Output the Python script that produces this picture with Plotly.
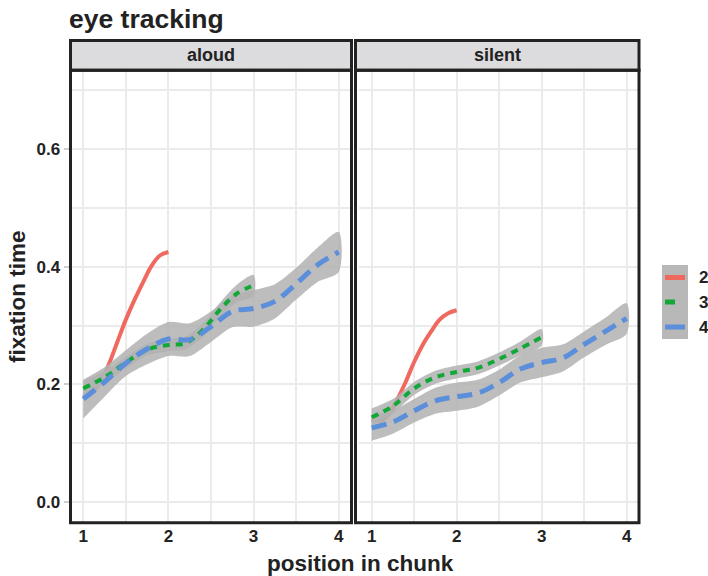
import plotly.graph_objects as go

W, H = 708, 576

# ---- data: smoothed fixation time by position in chunk, per chunk length ----
panels = ["aloud", "silent"]
groups = ["2", "3", "4"]
group_colors = ["#F0695F", "#12A838", "#5B8EDB"]

# aloud
aloud_pos2 = [1.0, 1.1, 1.2, 1.3, 1.4, 1.5, 1.6, 1.7, 1.8, 1.9, 2.0]
aloud_fix2 = [0.178, 0.186, 0.203, 0.234, 0.272, 0.310, 0.343, 0.373, 0.401, 0.419, 0.425]

aloud_pos3 = [1.0, 1.25, 1.5, 1.75, 2.0, 2.2, 2.4, 2.6, 2.8, 3.0]
aloud_fix3 = [0.193, 0.212, 0.237, 0.259, 0.267, 0.270, 0.292, 0.326, 0.354, 0.368]
aloud_se3 = [0.013, 0.011, 0.010, 0.010, 0.011, 0.011, 0.011, 0.012, 0.015, 0.018]

aloud_pos4 = [1.0, 1.25, 1.5, 1.75, 2.0, 2.25, 2.5, 2.75, 3.0, 3.25, 3.5, 3.75, 4.0]
aloud_fix4 = [0.175, 0.204, 0.236, 0.260, 0.277, 0.276, 0.298, 0.324, 0.329, 0.341, 0.371, 0.403, 0.425]
aloud_se4 = [0.033, 0.025, 0.022, 0.026, 0.029, 0.028, 0.026, 0.027, 0.031, 0.029, 0.027, 0.029, 0.034]

# silent
silent_pos2 = [1.0, 1.1, 1.2, 1.3, 1.4, 1.5, 1.6, 1.7, 1.8, 1.9, 2.0]
silent_fix2 = [0.140, 0.138, 0.149, 0.174, 0.204, 0.238, 0.267, 0.290, 0.310, 0.321, 0.326]

silent_pos3 = [1.0, 1.25, 1.5, 1.75, 2.0, 2.25, 2.5, 2.75, 3.0]
silent_fix3 = [0.144, 0.163, 0.193, 0.212, 0.221, 0.228, 0.243, 0.261, 0.280]
silent_se3 = [0.015, 0.012, 0.011, 0.011, 0.011, 0.011, 0.011, 0.012, 0.014]

silent_pos4 = [1.0, 1.25, 1.5, 1.75, 2.0, 2.25, 2.5, 2.75, 3.0, 3.25, 3.5, 3.75, 4.0]
silent_fix4 = [0.126, 0.136, 0.155, 0.172, 0.179, 0.185, 0.203, 0.226, 0.237, 0.245, 0.268, 0.290, 0.312]
silent_se4 = [0.022, 0.020, 0.020, 0.022, 0.024, 0.023, 0.022, 0.023, 0.025, 0.023, 0.022, 0.023, 0.026]

x_ticks = [1, 2, 3, 4]
y_ticks = [0.0, 0.2, 0.4, 0.6]

series = {
    "aloud": [(aloud_pos2, aloud_fix2, None),
              (aloud_pos3, aloud_fix3, aloud_se3),
              (aloud_pos4, aloud_fix4, aloud_se4)],
    "silent": [(silent_pos2, silent_fix2, None),
               (silent_pos3, silent_fix3, silent_se3),
               (silent_pos4, silent_fix4, silent_se4)],
}

# ---- styling ----
FONT = "Liberation Sans, Arial, Helvetica, sans-serif"
INK = "#222222"
GRID = "#EBEBEB"
RIBBON = "rgba(178,178,178,0.85)"
dashes = ["solid", "7px,6px", "15px,8px"]
widths = [4, 4, 5]


def px(x):
    return x / W


def py(y):
    return 1 - y / H


# panel geometry (pixels)
strip_top, panel_top, panel_bottom = 40.5, 70.3, 522.7
panel_box = {"aloud": (70.5, 351.5), "silent": (355.5, 639.0)}
axis_dom = {"aloud": (70.5, 351.5), "silent": (358.9, 639.4)}

fig = go.Figure()

for i, panel in enumerate(panels):
    xa = "x" if i == 0 else "x2"
    ya = "y" if i == 0 else "y2"
    data = series[panel]
    # group "2" line sits beneath the ribbons
    pos, fix, _ = data[0]
    fig.add_trace(go.Scatter(x=pos, y=fix, mode="lines", xaxis=xa, yaxis=ya,
                             line=dict(color=group_colors[0], width=widths[0],
                                       dash=dashes[0], shape="spline"),
                             showlegend=False, hoverinfo="skip"))
    # confidence ribbons
    for g in (1, 2):
        pos, fix, se = data[g]
        upper = [m + s for m, s in zip(fix, se)]
        lower = [m - s for m, s in zip(fix, se)]
        fig.add_trace(go.Scatter(x=pos + pos[::-1], y=upper + lower[::-1],
                                 mode="lines", fill="toself", fillcolor=RIBBON,
                                 line=dict(width=0, shape="spline", smoothing=0.8),
                                 xaxis=xa, yaxis=ya, showlegend=False,
                                 hoverinfo="skip"))
    # fitted lines
    for g in (1, 2):
        pos, fix, _ = data[g]
        fig.add_trace(go.Scatter(x=pos, y=fix, mode="lines", xaxis=xa, yaxis=ya,
                                 line=dict(color=group_colors[g], width=widths[g],
                                           dash=dashes[g], shape="spline"),
                                 showlegend=False, hoverinfo="skip"))

x_common = dict(range=[0.85, 4.15], tickvals=x_ticks, ticktext=[str(v) for v in x_ticks],
                showgrid=True, gridcolor=GRID, gridwidth=2.2, zeroline=False,
                showline=False, ticks="outside", ticklen=1, tickcolor="rgba(0,0,0,0)",
                ticklabelstandoff=-3,
                tickfont=dict(family=FONT, size=17, color=INK, weight="bold"),
                minor=dict(tickvals=[1.5, 2.5, 3.5], showgrid=True, gridcolor=GRID,
                           gridwidth=1.8, ticks=""))
y_common = dict(range=[-0.0352, 0.7338], tickvals=y_ticks, ticktext=["0.0", "0.2", "0.4", "0.6"],
                showgrid=True, gridcolor=GRID, gridwidth=2.2, zeroline=False,
                showline=False,
                minor=dict(tickvals=[0.1, 0.3, 0.5, 0.7], showgrid=True, gridcolor=GRID,
                           gridwidth=1.8, ticks=""))

dom_y = [py(panel_bottom), py(panel_top)]
fig.update_layout(
    width=W, height=H,
    margin=dict(l=0, r=0, t=0, b=0),
    paper_bgcolor="white", plot_bgcolor="white",
    showlegend=False,
    xaxis=dict(domain=[px(axis_dom["aloud"][0]), px(axis_dom["aloud"][1])], anchor="y", **x_common),
    xaxis2=dict(domain=[px(axis_dom["silent"][0]), px(axis_dom["silent"][1])], anchor="y2", **x_common),
    yaxis=dict(domain=dom_y, anchor="x", ticks="outside", ticklen=6, tickwidth=2,
               tickcolor="#CFCFCF",
               tickfont=dict(family=FONT, size=17, color=INK, weight="bold"), **y_common),
    yaxis2=dict(domain=dom_y, anchor="x2", matches="y", showticklabels=False, ticks="",
                **y_common),
)

shapes = []
annotations = []
for panel in panels:
    x0, x1 = panel_box[panel]
    # strip
    shapes.append(dict(type="rect", xref="paper", yref="paper",
                       x0=px(x0), x1=px(x1), y0=py(panel_top), y1=py(strip_top),
                       fillcolor="#DCDCDE", line=dict(color=INK, width=3), layer="above"))
    # panel border
    shapes.append(dict(type="rect", xref="paper", yref="paper",
                       x0=px(x0), x1=px(x1), y0=py(panel_bottom), y1=py(panel_top),
                       fillcolor="rgba(0,0,0,0)", line=dict(color=INK, width=3), layer="above"))
    annotations.append(dict(text=panel, xref="paper", yref="paper",
                            x=px((x0 + x1) / 2), y=py((strip_top + panel_top) / 2),
                            xanchor="center", yanchor="middle", showarrow=False,
                            font=dict(family=FONT, size=18, color=INK, weight="bold")))

# title and axis titles
annotations.append(dict(text="eye tracking", xref="paper", yref="paper",
                        x=px(67), y=py(19), xanchor="left", yanchor="middle", showarrow=False,
                        font=dict(family=FONT, size=26.5, color=INK, weight="bold")))
annotations.append(dict(text="position in chunk", xref="paper", yref="paper",
                        x=px(360.5), y=py(563), xanchor="center", yanchor="middle",
                        showarrow=False,
                        font=dict(family=FONT, size=22.5, color=INK, weight="bold")))
annotations.append(dict(text="fixation time", xref="paper", yref="paper",
                        x=px(17), y=py(297), xanchor="center", yanchor="middle",
                        textangle=-90, showarrow=False,
                        font=dict(family=FONT, size=22.5, color=INK, weight="bold")))

# legend key
shapes.append(dict(type="rect", xref="paper", yref="paper",
                   x0=px(662), x1=px(688), y0=py(339), y1=py(265),
                   fillcolor="#B8B8B8", line=dict(width=0)))
key_y = [277.5, 302, 327]
key_len = [20, 10, 20]
for g, label in enumerate(groups):
    shapes.append(dict(type="line", xref="paper", yref="paper",
                       x0=px(665), x1=px(665 + key_len[g]), y0=py(key_y[g]), y1=py(key_y[g]),
                       line=dict(color=group_colors[g], width=5)))
    annotations.append(dict(text=label, xref="paper", yref="paper",
                            x=px(697), y=py(key_y[g]), xanchor="left", yanchor="middle",
                            showarrow=False,
                            font=dict(family=FONT, size=17, color=INK, weight="bold")))

fig.update_layout(shapes=shapes, annotations=annotations)
fig.write_html("out.html")
